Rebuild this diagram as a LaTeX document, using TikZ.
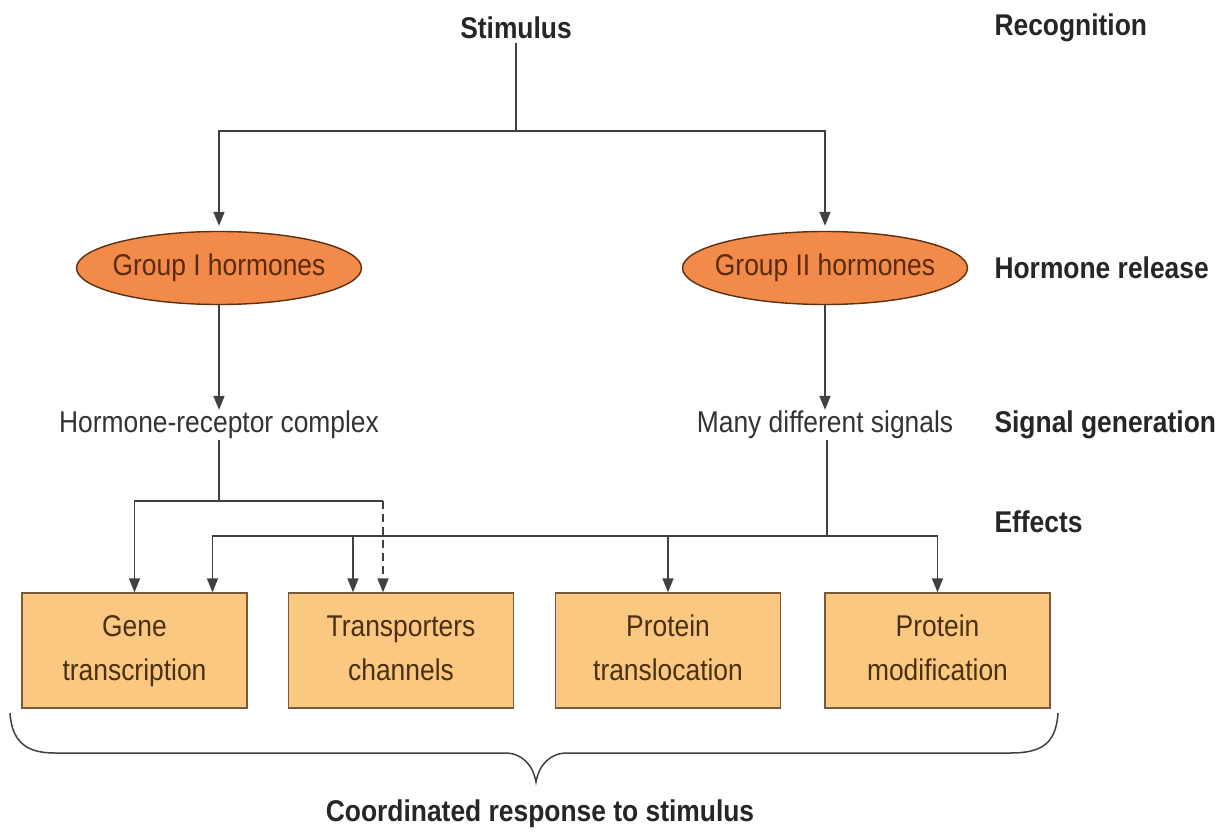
\documentclass[tikz,border=0pt]{standalone}
\usepackage{fontspec}
\setmainfont[FakeStretch=0.88]{Liberation Sans}
\usetikzlibrary{arrows.meta,shapes.geometric}

\definecolor{linegray}{HTML}{404040}
\definecolor{ovalfill}{HTML}{F28A4A}
\definecolor{ovaledge}{HTML}{5A3010}
\definecolor{ovaltext}{HTML}{5A2A0A}
\definecolor{boxfill}{HTML}{FAC880}
\definecolor{boxedge}{HTML}{7A5A3A}
\definecolor{boxtext}{HTML}{4A3010}
\definecolor{plaintext}{HTML}{333333}

% two centred lines with a fixed height and depth, so every box sets them alike
\newcommand{\twolines}[2]{\rule{0pt}{22pt}#1\\#2\rule[-7pt]{0pt}{7pt}}

\tikzset{
  every node/.style={font=\fontsize{30}{34}\selectfont},
  stagelabel/.style={anchor=west, font=\fontsize{30}{34}\selectfont\bfseries, text=black!85},
  headlabel/.style={font=\fontsize{30}{34}\selectfont\bfseries, text=black!85},
  plainlabel/.style={text=plaintext, inner sep=1pt},
  hormone/.style={ellipse, draw=ovaledge, line width=1.4pt, fill=ovalfill,
    minimum width=285, minimum height=73, inner xsep=-40pt, inner ysep=0pt,
    text=ovaltext},
  effectbox/.style={rectangle, draw=boxedge, line width=1.4pt, fill=boxfill,
    minimum width=225, minimum height=115, inner sep=0pt, align=center,
    text=boxtext, font=\fontsize{30}{44}\selectfont},
  conn/.style={draw=linegray, line width=1.6pt},
  arr/.style={conn, -{Triangle[length=14pt,width=11pt]}},
}

\begin{document}
\begin{tikzpicture}[x=1pt,y=-1pt]
  \useasboundingbox (0,0) rectangle (1225,832);
  \fill[white] (0,0) rectangle (1225,832);

  % level labels on the right
  \node[stagelabel] (lrec) at (991,28)  {Recognition};
  \node[stagelabel] (lrel) at (991,268) {Hormone release};
  \node[stagelabel] (lsig) at (991,425) {Signal generation};
  \node[stagelabel] (leff) at (991,522) {Effects};

  % stimulus and the two hormone groups
  \node[headlabel] (stim) at (516,28) {Stimulus};
  \node[hormone] (g1) at (219,268) {Group I hormones};
  \node[hormone] (g2) at (825,268) {Group II hormones};

  \node[plainlabel] (hrc) at (219,425) {Hormone-receptor complex};
  \node[plainlabel] (mds) at (825,425) {Many different signals};

  % effect boxes
  \node[effectbox] (b1) at (134.5,650.5) {\twolines{Gene}{transcription}};
  \node[effectbox] (b2) at (401,650.5) {\twolines{Transporters}{channels}};
  \node[effectbox] (b3) at (668,650.5) {\twolines{Protein}{translocation}};
  \node[effectbox] (b4) at (937.5,650.5) {\twolines{Protein}{modification}};

  % stimulus splits to both groups
  \coordinate (top) at (516,131);
  \draw[conn] (stim.south) -- (top);
  \draw[arr, shorten >=5pt] (top) -| (g1.north);
  \draw[arr, shorten >=5pt] (top) -| (g2.north);

  % hormones to their signals
  \draw[arr] (g1.south) -- (hrc.north);
  \draw[arr] (g2.south) -- (mds.north);

  % group I branch
  \coordinate (lsplit) at (219,501);
  \coordinate (b2dash) at ([xshift=-18pt]b2.north);
  \draw[conn] (hrc.south) -- (lsplit);
  \draw[arr] (lsplit) -| (b1.north);
  \draw[conn] (lsplit) -- (lsplit -| b2dash);
  \draw[arr, dash pattern=on 8pt off 5pt] (lsplit -| b2dash) -- (b2dash);

  % group II branch
  \coordinate (rsplit) at (827,536);
  \coordinate (b1in) at ([xshift=78pt]b1.north);
  \coordinate (b2in) at ([xshift=-48pt]b2.north);
  \draw[conn] (rsplit |- mds.south) -- (rsplit);
  \draw[arr] (rsplit) -| (b1in);
  \draw[arr] (rsplit) -| (b4.north);
  \draw[arr] (rsplit -| b2in) -- (b2in);
  \draw[arr] (rsplit -| b3.north) -- (b3.north);

  % brace under the boxes
  \coordinate (bl) at (10,713);
  \coordinate (bt) at (536,782);
  \coordinate (br) at (1058,713);
  \draw[conn, line width=1.5pt] (bl) .. controls (12,745) and (30,753) .. (55,753)
    -- (505,753) .. controls (522,753) and (533,765) .. (bt)
    .. controls (539,765) and (550,753) .. (567,753)
    -- (1010,753) .. controls (1040,753) and (1056,745) .. (br);
  \node[headlabel] (resp) at (540,814) {Coordinated response to stimulus};
\end{tikzpicture}
\end{document}
